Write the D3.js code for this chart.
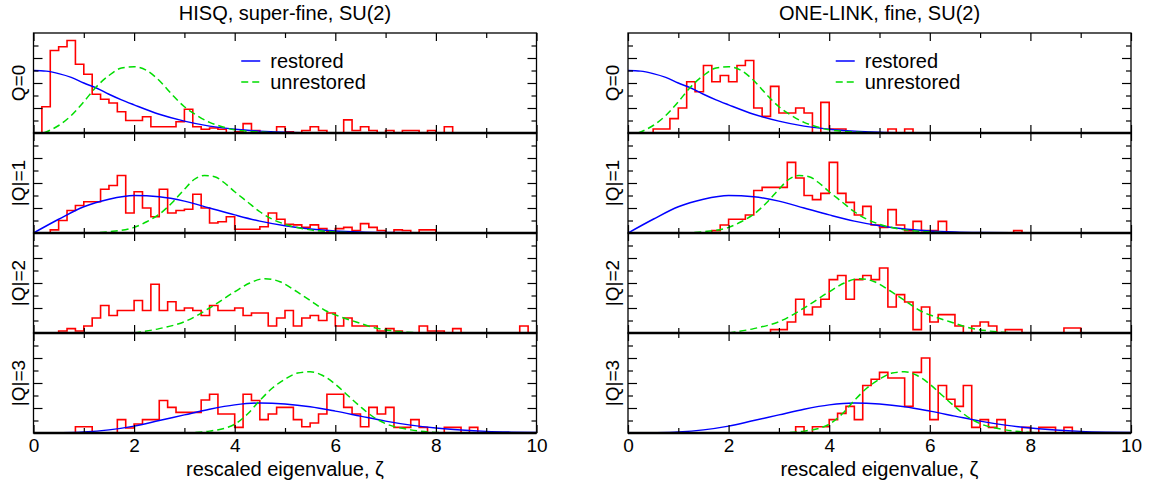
<!DOCTYPE html>
<html>
<head>
<meta charset="utf-8">
<title>Lowest eigenvalue distributions</title>
<style>
  body { margin: 0; background: #fff; }
  svg text { font-family: "Liberation Sans", Arial, sans-serif; fill: #000; }
</style>
</head>
<body>
<svg id="chart" width="1155" height="488"></svg>
<script src="https://d3js.org/d3.v7.min.js"></script>
<script>
// ---- data ----
var columnTitles = ["HISQ, super-fine, SU(2)", "ONE-LINK, fine, SU(2)"];
var panelLabels = ["Q=0", "|Q|=1", "|Q|=2", "|Q|=3"];
var xTickLabels = [0, 2, 4, 6, 8, 10];
var binWidth = 1 / 6;

// histograms, one value per bin of width 1/6 starting at zeta = 0
var hisqQ0 = [0, 0.21, 0.66, 0.69, 0.74, 0.55, 0.47, 0.31, 0.27, 0.24, 0.17, 0.10, 0.10, 0.13, 0.05, 0.05, 0.05, 0.09, 0.19, 0.05,
  0.03, 0.04, 0.03, 0, 0.01, 0.075, 0.02, 0, 0, 0.05, 0.01, 0, 0.02, 0.05, 0.02, 0, 0, 0.105, 0.02, 0.05,
  0.02, 0, 0.02, 0, 0.02, 0.02, 0, 0.02, 0, 0.05];
var hisqQ1 = [0, 0, 0.025, 0.10, 0.18, 0.22, 0.25, 0.25, 0.35, 0.38, 0.46, 0.16, 0.33, 0.20, 0.13, 0.35, 0.16, 0.18, 0.19, 0.31,
  0.20, 0.08, 0.09, 0.13, 0.03, 0.03, 0.03, 0.05, 0.16, 0.11, 0.07, 0.065, 0.045, 0.065, 0.035, 0.01, 0.035, 0.045, 0.02, 0.075,
  0.045, 0.02, 0, 0.025, 0.02, 0, 0.025, 0.025];
var hisqQ2 = [0, 0, 0, 0.016, 0.035, 0.016, 0.056, 0.12, 0.22, 0.14, 0.18, 0.18, 0.26, 0.18, 0.39, 0.18, 0.25, 0.18, 0.20, 0.18,
  0.14, 0.22, 0.18, 0.18, 0.20, 0.14, 0.16, 0.16, 0.056, 0.12, 0.18, 0.056, 0.12, 0.14, 0.10, 0.16, 0.056, 0.12, 0.056, 0.056,
  0.056, 0.016, 0.035, 0.016, 0, 0, 0.056, 0.016, 0.016, 0, 0.035, 0, 0, 0, 0, 0, 0, 0, 0.056];
var hisqQ3 = [0, 0, 0, 0, 0, 0.05, 0.05, 0, 0, 0, 0.107, 0.04, 0.072, 0.107, 0.107, 0.26, 0.205, 0.165, 0.165, 0.165,
  0.264, 0.31, 0.152, 0.152, 0.045, 0.31, 0.26, 0.107, 0.152, 0.205, 0.205, 0.107, 0.05, 0.08, 0.152, 0.31, 0.31, 0.205, 0.152, 0.05,
  0.205, 0.152, 0.205, 0.045, 0.045, 0.107, 0.045, 0, 0, 0.045, 0.045, 0, 0.045];

var oneLinkQ0 = [0, 0, 0, 0.032, 0.032, 0.115, 0.20, 0.41, 0.33, 0.54, 0.41, 0.46, 0.41, 0.54, 0.58, 0.20, 0.133, 0.373, 0.16, 0.16,
  0.20, 0.16, 0, 0.245, 0.032, 0.032, 0, 0, 0, 0, 0, 0.032, 0, 0.032];
var oneLinkQ1 = [0, 0, 0, 0, 0, 0, 0, 0, 0, 0, 0.019, 0.064, 0.11, 0.11, 0.144, 0.34, 0.365, 0.365, 0.365, 0.565,
  0.44, 0.30, 0.267, 0.317, 0.565, 0.317, 0.245, 0.144, 0.213, 0.064, 0.045, 0.187, 0.064, 0.019, 0.093, 0.019, 0.019, 0.093, 0, 0,
  0, 0, 0, 0, 0, 0, 0.019];
var oneLinkQ2 = [0, 0, 0, 0, 0, 0, 0, 0, 0, 0, 0, 0, 0, 0, 0, 0, 0, 0.027, 0.027, 0.088,
  0.27, 0.147, 0.208, 0.27, 0.427, 0.46, 0.27, 0.427, 0.46, 0.427, 0.52, 0.208, 0.307, 0.248, 0.027, 0.208, 0.088, 0.147, 0.147, 0.056,
  0, 0.056, 0.088, 0.056, 0, 0.027, 0.027, 0, 0, 0, 0, 0, 0.04, 0.04];
var oneLinkQ3 = [0, 0, 0, 0, 0, 0, 0, 0, 0, 0, 0, 0, 0, 0, 0, 0, 0, 0, 0, 0,
  0.05, 0, 0.05, 0.05, 0.107, 0.157, 0.213, 0.107, 0.38, 0.43, 0.485, 0.44, 0.44, 0.213, 0.485, 0.60, 0.107, 0.38, 0.27, 0.213,
  0.38, 0.045, 0.107, 0.045, 0.107, 0, 0, 0.045, 0, 0.045, 0.045, 0, 0.045];

// theory curves (same in both columns), [zeta, density]
var restoredQ0 = [[0, 0.50], [0.25, 0.495], [0.5, 0.475], [0.75, 0.445], [1, 0.40], [1.25, 0.36], [1.5, 0.31], [1.75, 0.265],
  [2, 0.225], [2.5, 0.15], [3, 0.095], [3.5, 0.055], [4, 0.03], [4.5, 0.015], [5, 0.007], [5.5, 0.003], [6, 0.001], [7, 0], [8, 0]];
var restoredQ1 = [[0, 0], [0.5, 0.11], [1, 0.21], [1.5, 0.27], [2, 0.30], [2.5, 0.29], [3, 0.255], [3.5, 0.20], [4, 0.145],
  [4.5, 0.095], [5, 0.058], [5.5, 0.032], [6, 0.016], [6.5, 0.008], [7, 0.004], [8, 0.001], [9, 0], [10, 0]];
var restoredQ3 = [[0, 0], [0.5, 0.002], [1, 0.008], [1.5, 0.025], [2, 0.055], [2.5, 0.10], [3, 0.145], [3.5, 0.19], [4, 0.225],
  [4.5, 0.24], [5, 0.232], [5.5, 0.21], [6, 0.175], [6.5, 0.135], [7, 0.095], [7.5, 0.063], [8, 0.04], [8.5, 0.024], [9, 0.013],
  [9.5, 0.007], [10, 0.004]];
var unrestoredQ0 = [[0.2, 0], [0.5, 0.06], [0.75, 0.14], [1, 0.25], [1.25, 0.37], [1.5, 0.46], [1.75, 0.52], [2, 0.53],
  [2.25, 0.50], [2.5, 0.42], [2.75, 0.31], [3, 0.21], [3.25, 0.14], [3.5, 0.085], [3.75, 0.05], [4, 0.025], [4.5, 0.008], [5, 0]];
var unrestoredQ1 = [[1.1, 0], [1.5, 0.01], [2, 0.045], [2.25, 0.09], [2.5, 0.15], [2.75, 0.24], [3, 0.35], [3.2, 0.43], [3.4, 0.46],
  [3.6, 0.45], [3.8, 0.40], [4, 0.33], [4.25, 0.25], [4.5, 0.17], [4.75, 0.11], [5, 0.07], [5.5, 0.025], [6, 0.008], [6.5, 0]];
var unrestoredQ2 = [[2, 0], [2.5, 0.035], [3, 0.09], [3.5, 0.20], [4, 0.33], [4.3, 0.40], [4.6, 0.435], [4.9, 0.41], [5.2, 0.34],
  [5.5, 0.26], [5.8, 0.18], [6.1, 0.13], [6.4, 0.09], [6.8, 0.04], [7.2, 0.015], [7.7, 0]];
var unrestoredQ3 = [[3, 0], [3.5, 0.015], [4, 0.07], [4.25, 0.15], [4.5, 0.26], [4.75, 0.36], [5, 0.43], [5.25, 0.48], [5.5, 0.49],
  [5.75, 0.46], [6, 0.39], [6.25, 0.30], [6.5, 0.21], [6.75, 0.13], [7, 0.075], [7.5, 0.025], [8, 0.005], [8.5, 0]];

var histograms = [[hisqQ0, hisqQ1, hisqQ2, hisqQ3], [oneLinkQ0, oneLinkQ1, oneLinkQ2, oneLinkQ3]];
var restored = [restoredQ0, restoredQ1, null, restoredQ3];
var unrestored = [unrestoredQ0, unrestoredQ1, unrestoredQ2, unrestoredQ3];

// ---- layout ----
var svg = d3.select('#chart');
var colX = [33.5, 628];
var plotW = 503;
var top0 = 33, panelH = 100;

function histPoints(vals) {
  var pts = [[0, 0]];
  vals.forEach(function(v, i) { pts.push([i * binWidth, v]); });
  pts.push([vals.length * binWidth, 0]);
  return pts;
}

function styleAxis(g) {
  g.select('.domain').remove();
  g.selectAll('line').attr('stroke', '#000').attr('stroke-width', 1.2);
  g.selectAll('text').attr('font-size', 19).attr('font-family', '"Liberation Sans", Arial, sans-serif');
}

colX.forEach(function(x0, c) {
  var x = d3.scaleLinear().domain([0, 10]).range([x0, x0 + plotW]);
  var col = svg.append('g');

  col.append('text')
    .attr('x', x0 + plotW / 2).attr('y', 20)
    .attr('text-anchor', 'middle').attr('font-size', 20)
    .text(columnTitles[c]);

  for (var q = 0; q < 4; q++) {
    var yTop = top0 + q * panelH, yBot = yTop + panelH;
    var y = d3.scaleLinear().domain([0, 0.8]).range([yBot, yTop]);
    var clipId = 'clip' + c + q;
    col.append('clipPath').attr('id', clipId)
      .append('rect').attr('x', x0).attr('y', yTop).attr('width', plotW).attr('height', panelH);
    var p = col.append('g');
    var data = p.append('g').attr('clip-path', 'url(#' + clipId + ')');

    // histogram
    data.append('path')
      .attr('d', d3.line().x(function(d) { return x(d[0]); }).y(function(d) { return y(d[1]); })
        .curve(d3.curveStepAfter)(histPoints(histograms[c][q])))
      .attr('fill', 'none').attr('stroke', '#ff0000').attr('stroke-width', 1.6);

    var line = d3.line().x(function(d) { return x(d[0]); }).y(function(d) { return y(d[1]); })
      .curve(d3.curveMonotoneX);
    if (restored[q]) {
      data.append('path').attr('d', line(restored[q]))
        .attr('fill', 'none').attr('stroke', '#0000ff').attr('stroke-width', 1.5);
    }
    data.append('path').attr('d', line(unrestored[q]))
      .attr('fill', 'none').attr('stroke', '#00dd00').attr('stroke-width', 1.5)
      .attr('stroke-dasharray', '7,4');

    // x ticks (inside, top and bottom of every panel)
    var isLast = q === 3;
    p.append('g').attr('transform', 'translate(0,' + yTop + ')')
      .call(d3.axisTop(x).tickValues([0, 2, 4, 6, 8, 10]).tickSizeInner(-8).tickSizeOuter(0).tickFormat(''))
      .call(styleAxis);
    p.append('g').attr('transform', 'translate(0,' + yTop + ')')
      .call(d3.axisTop(x).tickValues([1, 3, 5, 7, 9]).tickSizeInner(-5).tickSizeOuter(0).tickFormat(''))
      .call(styleAxis);
    p.append('g').attr('transform', 'translate(0,' + yBot + ')')
      .call(d3.axisBottom(x).tickValues(xTickLabels).tickSizeInner(-8).tickSizeOuter(0).tickPadding(6)
        .tickFormat(isLast ? d3.format('d') : ''))
      .call(styleAxis);
    p.append('g').attr('transform', 'translate(0,' + yBot + ')')
      .call(d3.axisBottom(x).tickValues([1, 3, 5, 7, 9]).tickSizeInner(-5).tickSizeOuter(0).tickFormat(''))
      .call(styleAxis);

    // y ticks (inside, left and right)
    p.append('g').attr('transform', 'translate(' + x0 + ',0)')
      .call(d3.axisLeft(y).tickValues([0.2, 0.4, 0.6]).tickSizeInner(-9).tickSizeOuter(0).tickFormat(''))
      .call(styleAxis);
    p.append('g').attr('transform', 'translate(' + x0 + ',0)')
      .call(d3.axisLeft(y).tickValues([0.1, 0.3, 0.5, 0.7]).tickSizeInner(-5).tickSizeOuter(0).tickFormat(''))
      .call(styleAxis);
    p.append('g').attr('transform', 'translate(' + (x0 + plotW) + ',0)')
      .call(d3.axisRight(y).tickValues([0.2, 0.4, 0.6]).tickSizeInner(-9).tickSizeOuter(0).tickFormat(''))
      .call(styleAxis);
    p.append('g').attr('transform', 'translate(' + (x0 + plotW) + ',0)')
      .call(d3.axisRight(y).tickValues([0.1, 0.3, 0.5, 0.7]).tickSizeInner(-5).tickSizeOuter(0).tickFormat(''))
      .call(styleAxis);

    // frame
    p.append('rect').attr('x', x0).attr('y', yTop).attr('width', plotW).attr('height', panelH)
      .attr('fill', 'none').attr('stroke', '#000').attr('stroke-width', 1.3);
    p.append('line').attr('x1', x0).attr('x2', x0 + plotW).attr('y1', yBot).attr('y2', yBot)
      .attr('stroke', '#000').attr('stroke-width', 2.5);

    // panel label
    p.append('text')
      .attr('transform', 'translate(' + (x0 - 9) + ',' + (yTop + panelH / 2) + ') rotate(-90)')
      .attr('text-anchor', 'middle').attr('font-size', 19)
      .text(panelLabels[q]);

    // legend in the top panels
    if (q === 0) {
      var lg = p.append('g');
      var lx = x(4.13);
      lg.append('line').attr('x1', lx).attr('x2', lx + 19).attr('y1', 61).attr('y2', 61)
        .attr('stroke', '#0000ff').attr('stroke-width', 1.5);
      lg.append('text').attr('x', lx + 29).attr('y', 68).attr('font-size', 20).text('restored');
      lg.append('line').attr('x1', lx).attr('x2', lx + 19).attr('y1', 82).attr('y2', 82)
        .attr('stroke', '#00dd00').attr('stroke-width', 1.5).attr('stroke-dasharray', '7,4');
      lg.append('text').attr('x', lx + 29).attr('y', 89).attr('font-size', 20).text('unrestored');
    }
  }

  col.append('text')
    .attr('x', x0 + plotW / 2).attr('y', 476)
    .attr('text-anchor', 'middle').attr('font-size', 20)
    .text('rescaled eigenvalue, \u03b6');
});
</script>
</body>
</html>
